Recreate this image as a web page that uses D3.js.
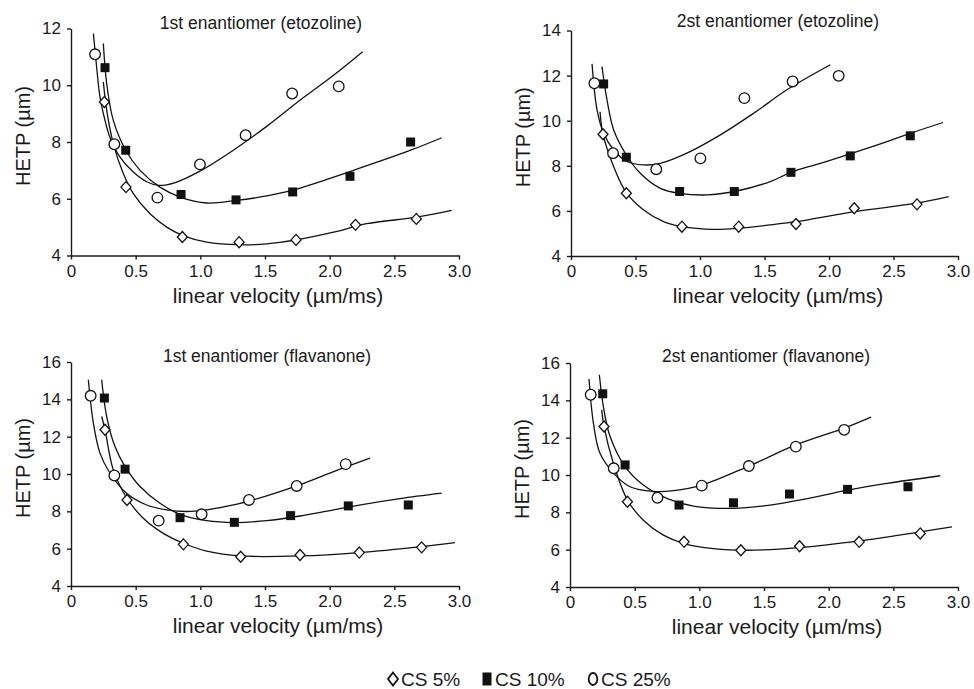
<!DOCTYPE html>
<html>
<head>
<meta charset="utf-8">
<title>HETP vs linear velocity</title>
<script src="https://d3js.org/d3.v7.min.js"></script>
<style>
    body{
        margin: 0;
        background: #fff;
    }
    svg text{
        font-family: "Liberation Sans", Arial, sans-serif;
        fill: #1a1a1a;
    }
    .axis path, .axis line{
        stroke: #1a1a1a;
        stroke-width: 1.4px;
    }
    .axis text{
        font-size: 17px;
    }
    .fit{
        fill: none;
        stroke: #111;
        stroke-width: 1.3px;
    }
</style>
</head>
<body>
<svg id="chart" width="974" height="689"></svg>
<script>
// ---- data: [linear velocity, HETP] ----

// 1st enantiomer (etozoline)
var e1_cs5  = [[0.258,9.41],[0.425,6.41],[0.861,4.65],[1.30,4.47],[1.74,4.55],[2.20,5.08],[2.67,5.29]];
var e1_cs10 = [[0.263,10.62],[0.423,7.71],[0.851,6.15],[1.276,5.96],[1.714,6.24],[2.157,6.79],[2.626,8.0]];
var e1_cs25 = [[0.186,11.09],[0.335,7.92],[0.668,6.04],[0.997,7.21],[1.35,8.24],[1.71,9.71],[2.07,9.96]];
var e1_fit5  = [[0.25,10.12],[0.276,9.12],[0.327,7.94],[0.405,6.88],[0.482,6.18],[0.611,5.47],[0.74,5.0],[0.861,4.71],[1.05,4.47],[1.30,4.38],[1.513,4.41],[1.74,4.55],[2.03,4.82],[2.286,5.12],[2.673,5.35],[2.943,5.59]];
var e1_fit10 = [[0.25,11.47],[0.276,10.06],[0.327,8.76],[0.423,7.71],[0.534,7.0],[0.688,6.41],[0.843,6.06],[1.05,5.85],[1.276,5.94],[1.513,6.1],[1.714,6.3],[2.157,6.96],[2.626,7.71],[2.866,8.15]];
var e1_fit25 = [[0.173,11.82],[0.198,10.65],[0.224,9.59],[0.263,8.76],[0.30,8.18],[0.379,7.47],[0.482,6.94],[0.585,6.6],[0.68,6.47],[0.80,6.56],[1.0,6.98],[1.255,7.71],[1.513,8.55],[1.77,9.47],[2.03,10.35],[2.255,11.18]];

// 2st enantiomer (etozoline)
var e2_cs5  = [[0.248,9.40],[0.429,6.78],[0.86,5.30],[1.30,5.30],[1.744,5.42],[2.196,6.12],[2.682,6.29]];
var e2_cs10 = [[0.253,11.63],[0.429,8.38],[0.842,6.86],[1.266,6.86],[1.705,7.71],[2.165,8.44],[2.63,9.33]];
var e2_cs25 = [[0.181,11.66],[0.326,8.56],[0.661,7.85],[1.003,8.33],[1.344,11.0],[1.718,11.74],[2.075,11.99]];
var e2_fit5  = [[0.225,10.4],[0.248,9.40],[0.331,7.96],[0.429,6.81],[0.563,6.04],[0.718,5.52],[0.86,5.30],[1.106,5.18],[1.30,5.23],[1.545,5.38],[1.744,5.52],[2.196,5.97],[2.682,6.34],[2.928,6.63]];
var e2_fit10 = [[0.24,12.40],[0.279,10.92],[0.331,9.59],[0.429,8.48],[0.537,7.67],[0.693,7.0],[0.842,6.78],[1.054,6.71],[1.266,6.86],[1.545,7.30],[1.705,7.71],[1.933,8.11],[2.165,8.53],[2.45,9.07],[2.63,9.44],[2.884,9.92]];
var e2_fit25 = [[0.163,12.52],[0.202,10.48],[0.253,9.44],[0.331,8.70],[0.434,8.19],[0.563,8.04],[0.693,8.11],[0.899,8.56],[1.158,9.37],[1.416,10.33],[1.674,11.37],[2.01,12.48]];

// 1st enantiomer (flavanone)
var f1_cs5  = [[0.263,12.37],[0.433,8.61],[0.869,6.23],[1.312,5.57],[1.771,5.66],[2.229,5.79],[2.711,6.07]];
var f1_cs10 = [[0.258,14.07],[0.418,10.26],[0.843,7.66],[1.263,7.41],[1.698,7.77],[2.144,8.29],[2.608,8.34]];
var f1_cs25 = [[0.152,14.19],[0.335,9.92],[0.678,7.50],[1.01,7.84],[1.376,8.61],[1.745,9.36],[2.124,10.53]];
var f1_fit5  = [[0.237,13.08],[0.263,12.37],[0.327,10.22],[0.433,8.70],[0.559,7.63],[0.714,6.82],[0.869,6.29],[1.049,5.87],[1.312,5.61],[1.771,5.61],[2.229,5.79],[2.711,6.11],[2.969,6.32]];
var f1_fit10 = [[0.237,15.05],[0.276,13.08],[0.34,11.47],[0.418,10.4],[0.534,9.33],[0.688,8.43],[0.843,7.84],[1.049,7.50],[1.263,7.40],[1.513,7.50],[1.771,7.75],[2.03,8.08],[2.286,8.40],[2.544,8.68],[2.866,8.97]];
var f1_fit25 = [[0.134,15.05],[0.173,12.73],[0.224,11.12],[0.302,10.04],[0.43,8.97],[0.585,8.34],[0.74,8.08],[0.894,7.99],[1.049,8.08],[1.255,8.34],[1.513,8.83],[1.745,9.36],[2.03,10.13],[2.312,10.85]];

// 2st enantiomer (flavanone)
var f2_cs5  = [[0.263,12.60],[0.444,8.57],[0.882,6.42],[1.321,5.97],[1.775,6.18],[2.236,6.42],[2.708,6.87]];
var f2_cs10 = [[0.253,14.35],[0.426,10.54],[0.843,8.39],[1.264,8.51],[1.697,8.98],[2.146,9.23],[2.613,9.37]];
var f2_cs25 = [[0.16,14.30],[0.338,10.36],[0.676,8.78],[1.019,9.43],[1.383,10.48],[1.746,11.52],[2.12,12.42]];
var f2_fit5  = [[0.245,13.49],[0.263,12.6],[0.335,10.63],[0.444,8.66],[0.567,7.58],[0.722,6.78],[0.882,6.33],[1.109,6.06],[1.367,5.97],[1.775,6.11],[2.236,6.47],[2.708,6.95],[2.953,7.22]];
var f2_fit10 = [[0.227,15.37],[0.258,13.67],[0.31,12.06],[0.426,10.45],[0.567,9.46],[0.748,8.75],[0.954,8.33],[1.264,8.21],[1.548,8.39],[1.805,8.69],[2.146,9.19],[2.45,9.55],[2.863,9.96]];
var f2_fit25 = [[0.147,15.14],[0.181,12.78],[0.232,11.16],[0.338,10.09],[0.464,9.37],[0.645,9.12],[0.80,9.16],[1.019,9.46],[1.383,10.48],[1.746,11.61],[2.12,12.51],[2.327,13.10]];

var titles = ["1st enantiomer (etozoline)", "2st enantiomer (etozoline)",
              "1st enantiomer (flavanone)", "2st enantiomer (flavanone)"];
var yMax = [12, 14, 16, 16];
var xTicks = [0, 0.5, 1.0, 1.5, 2.0, 2.5, 3.0];
var legendLabels = ["CS 5%", "CS 10%", "CS 25%"];

var panels = [
    {title: titles[0], yMax: yMax[0], pts: [e1_cs5, e1_cs10, e1_cs25], fits: [e1_fit5, e1_fit10, e1_fit25]},
    {title: titles[1], yMax: yMax[1], pts: [e2_cs5, e2_cs10, e2_cs25], fits: [e2_fit5, e2_fit10, e2_fit25]},
    {title: titles[2], yMax: yMax[2], pts: [f1_cs5, f1_cs10, f1_cs25], fits: [f1_fit5, f1_fit10, f1_fit25]},
    {title: titles[3], yMax: yMax[3], pts: [f2_cs5, f2_cs10, f2_cs25], fits: [f2_fit5, f2_fit10, f2_fit25]}
];

// ---- layout (pixels) ----
var frames = [
    {left: 71,  right: 459, top: 28.5, bottom: 255.5, titleX: 261, titleY: 29},
    {left: 571, right: 958, top: 30.5, bottom: 256,   titleX: 778, titleY: 27},
    {left: 71,  right: 459, top: 362,  bottom: 586,   titleX: 267, titleY: 362},
    {left: 570, right: 958, top: 363,  bottom: 587,   titleX: 766, titleY: 362}
];

var svg = d3.select("#chart");

function diamond(w, h){
    return "M0," + (-h/2) + "L" + (w/2) + ",0L0," + (h/2) + "L" + (-w/2) + ",0Z";
}

panels.forEach(function(p, i){
    var f = frames[i];
    var x = d3.scaleLinear().domain([0, 3]).range([f.left, f.right]);
    var y = d3.scaleLinear().domain([4, p.yMax]).range([f.bottom, f.top]);

    var g = svg.append("g");

    // axes
    g.append("g")
        .attr("class", "axis")
        .attr("transform", "translate(0," + f.bottom + ")")
        .call(d3.axisBottom(x).tickValues(xTicks).tickSize(4).tickSizeOuter(0).tickPadding(5)
            .tickFormat(d => d === 0 ? "0" : d3.format(".1f")(d)));

    g.append("g")
        .attr("class", "axis")
        .attr("transform", "translate(" + f.left + ",0)")
        .call(d3.axisLeft(y).tickValues(d3.range(4, p.yMax + 1, 2)).tickSize(4).tickSizeOuter(0).tickPadding(6));

    g.selectAll(".axis text").style("fill", "#1a1a1a");

    // title and axis labels
    g.append("text")
        .attr("x", f.titleX)
        .attr("y", f.titleY)
        .attr("text-anchor", "middle")
        .style("font-size", "17.5px")
        .text(p.title);

    g.append("text")
        .attr("x", f.left + 207)
        .attr("y", f.bottom + 47)
        .attr("text-anchor", "middle")
        .style("font-size", "21px")
        .text("linear velocity (\u00b5m/ms)");

    g.append("text")
        .attr("transform", "translate(" + (f.left - 41) + "," + ((f.top + f.bottom) / 2 - 6) + ") rotate(-90)")
        .attr("text-anchor", "middle")
        .style("font-size", "20px")
        .text("HETP (\u00b5m)");

    // fitted curves
    var line = d3.line()
        .x(d => x(d[0]))
        .y(d => y(d[1]))
        .curve(d3.curveCatmullRom.alpha(0.5));

    g.selectAll("path.fit")
        .data(p.fits)
        .enter()
        .append("path")
        .attr("class", "fit")
        .attr("d", line);

    // CS 5% diamonds
    g.selectAll("path.cs5")
        .data(p.pts[0])
        .enter()
        .append("path")
        .attr("class", "cs5")
        .attr("transform", d => "translate(" + x(d[0]) + "," + y(d[1]) + ")")
        .attr("d", diamond(10, 11))
        .style("fill", "#fff")
        .style("stroke", "#111")
        .style("stroke-width", 1.3);

    // CS 10% squares
    g.selectAll("rect.cs10")
        .data(p.pts[1])
        .enter()
        .append("rect")
        .attr("class", "cs10")
        .attr("x", d => x(d[0]) - 4.5)
        .attr("y", d => y(d[1]) - 4.5)
        .attr("width", 9)
        .attr("height", 9)
        .style("fill", "#111");

    // CS 25% circles
    g.selectAll("circle.cs25")
        .data(p.pts[2])
        .enter()
        .append("circle")
        .attr("class", "cs25")
        .attr("cx", d => x(d[0]))
        .attr("cy", d => y(d[1]))
        .attr("r", 5.3)
        .style("fill", "#fff")
        .style("stroke", "#111")
        .style("stroke-width", 1.3);
});

// legend
var legend = svg.append("g").attr("transform", "translate(0,679)");
var legendX = [393, 487, 593];

legend.append("path")
    .attr("transform", "translate(" + legendX[0] + ",0)")
    .attr("d", diamond(10, 13))
    .style("fill", "#fff")
    .style("stroke", "#111")
    .style("stroke-width", 1.8);

legend.append("rect")
    .attr("x", legendX[1] - 4.5)
    .attr("y", -6.5)
    .attr("width", 9)
    .attr("height", 13)
    .style("fill", "#111");

legend.append("ellipse")
    .attr("cx", legendX[2])
    .attr("rx", 4.3)
    .attr("ry", 6)
    .style("fill", "#fff")
    .style("stroke", "#111")
    .style("stroke-width", 1.8);

legend.selectAll("text")
    .data(legendLabels)
    .enter()
    .append("text")
    .attr("x", (d, i) => legendX[i] + 8)
    .attr("y", 7)
    .style("font-size", "19px")
    .text(d => d);
</script>
</body>
</html>
